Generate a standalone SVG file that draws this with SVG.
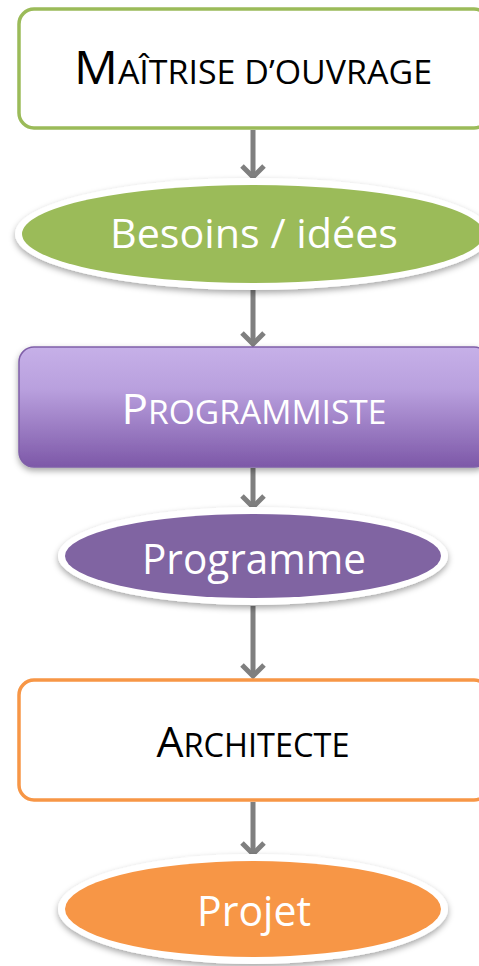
<svg xmlns="http://www.w3.org/2000/svg" width="479" height="966" viewBox="0 0 479 966">
<defs>
<linearGradient id="purp" x1="0" y1="0" x2="0" y2="1">
<stop offset="0" stop-color="#c6b0e8"/>
<stop offset="0.35" stop-color="#b9a0de"/>
<stop offset="1" stop-color="#7d58a8"/>
</linearGradient>
<filter id="sh" x="-10%" y="-20%" width="120%" height="150%">
<feDropShadow dx="0" dy="3" stdDeviation="3" flood-color="#000" flood-opacity="0.35"/>
</filter>
<marker id="ah" markerUnits="userSpaceOnUse" viewBox="-14 -14 28 28" refX="0" refY="0" markerWidth="28" markerHeight="28" orient="auto">
<polyline points="-11,-11 0,0 -11,11" fill="none" stroke="#7f7f7f" stroke-width="5" stroke-linejoin="miter"/>
</marker>
</defs>
<style>
.box{fill:#fff;stroke-width:3.5}
.conn{stroke:#7f7f7f;stroke-width:5;fill:none}
.t{font-family:"Open Sans","Liberation Sans",sans-serif;text-anchor:middle}
.w{fill:#fff}
.k{fill:#000}
</style>
<g id="connectors">
<line class="conn" x1="253" y1="130" x2="253" y2="177" marker-end="url(#ah)"/>
<line class="conn" x1="253" y1="290" x2="253" y2="344" marker-end="url(#ah)"/>
<line class="conn" x1="253" y1="468" x2="253" y2="507" marker-end="url(#ah)"/>
<line class="conn" x1="253" y1="606" x2="253" y2="676" marker-end="url(#ah)"/>
<line class="conn" x1="253" y1="802" x2="253" y2="854" marker-end="url(#ah)"/>
</g>
<g id="maitrise">
<rect class="box" x="19" y="9" width="470" height="119" rx="15" stroke="#9bbb59"/>
<text class="t k" x="253" y="84" font-size="46" textLength="358" lengthAdjust="spacingAndGlyphs">M<tspan font-size="32">AÎTRISE D’OUVRAGE</tspan></text>
</g>
<g id="besoins">
<ellipse cx="253" cy="234" rx="238" ry="56" fill="#fff" filter="url(#sh)"/>
<ellipse cx="253" cy="234" rx="231" ry="49" fill="#9bbb59"/>
<text class="t w" x="254" y="248" font-size="41" textLength="288" lengthAdjust="spacingAndGlyphs">Besoins / idées</text>
</g>
<g id="programmiste">
<rect x="19" y="347" width="470" height="120" rx="15" fill="url(#purp)" stroke="#7f5fa8" stroke-width="1.5" filter="url(#sh)"/>
<text class="t w" x="254" y="424" font-size="42" textLength="265" lengthAdjust="spacingAndGlyphs">P<tspan font-size="32">ROGRAMMISTE</tspan></text>
</g>
<g id="programme">
<ellipse cx="253" cy="556" rx="195" ry="49" fill="#fff" filter="url(#sh)"/>
<ellipse cx="253" cy="556" rx="188" ry="42" fill="#8064a2"/>
<text class="t w" x="254" y="574" font-size="42" textLength="224" lengthAdjust="spacingAndGlyphs">Programme</text>
</g>
<g id="architecte">
<rect class="box" x="19" y="680" width="470" height="120" rx="15" stroke="#f79646"/>
<text class="t k" x="253" y="757" font-size="42" textLength="193" lengthAdjust="spacingAndGlyphs">A<tspan font-size="32">RCHITECTE</tspan></text>
</g>
<g id="projet">
<ellipse cx="253" cy="909" rx="195" ry="55" fill="#fff" filter="url(#sh)"/>
<ellipse cx="253" cy="909" rx="188" ry="48" fill="#f79646"/>
<text class="t w" x="254" y="926" font-size="42" textLength="114" lengthAdjust="spacingAndGlyphs">Projet</text>
</g>
</svg>
